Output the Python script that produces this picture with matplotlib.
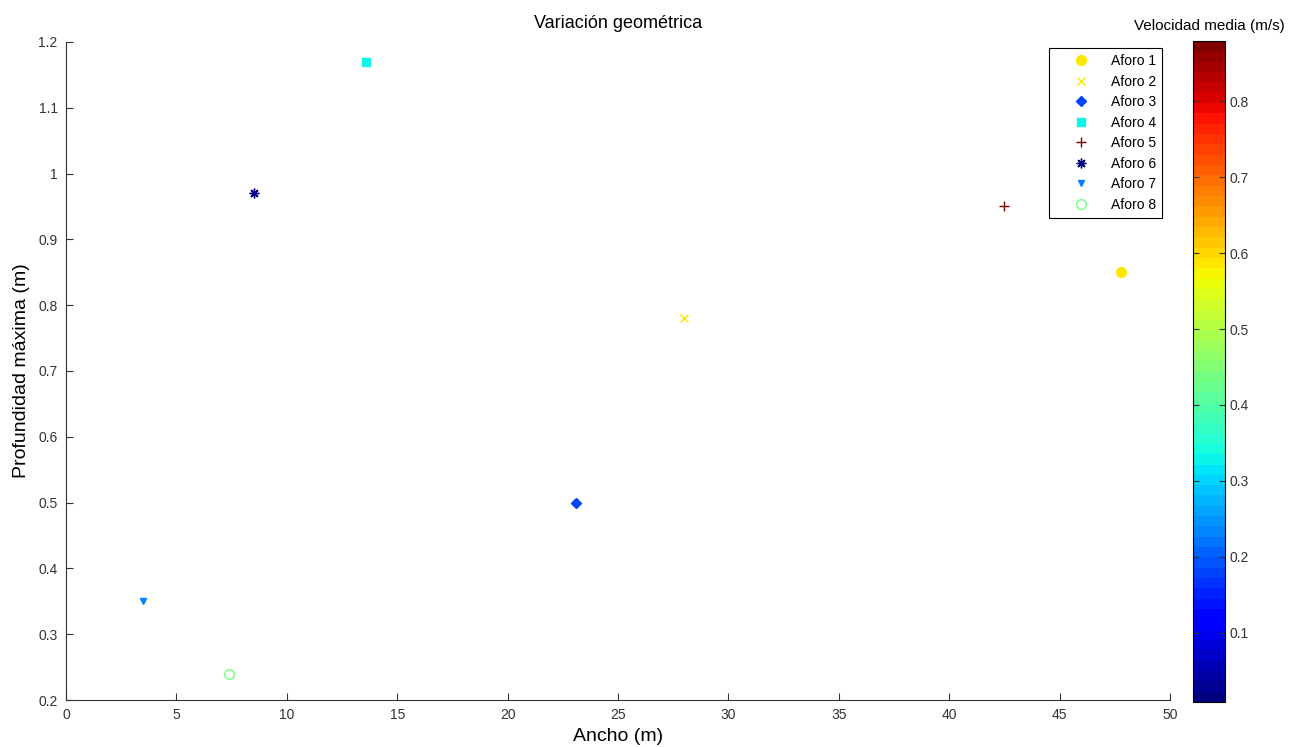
import numpy as np
import matplotlib
matplotlib.use("Agg")
import matplotlib.pyplot as plt
import matplotlib.colors as mcolors

plt.rcParams['font.family'] = ['Liberation Sans', 'DejaVu Sans']

# data
labels = ["Aforo 1", "Aforo 2", "Aforo 3", "Aforo 4", "Aforo 5", "Aforo 6", "Aforo 7", "Aforo 8"]
ancho = [47.8, 28.0, 23.1, 13.6, 42.5, 8.5, 3.5, 7.4]
profundidad = [0.85, 0.78, 0.50, 1.17, 0.95, 0.97, 0.35, 0.24]
velocidad = [0.58, 0.59, 0.175, 0.335, 0.879, 0.009, 0.235, 0.44]
markers = ["o", "x", "D", "s", "+", (8, 2, 0), "v", "o"]
filled = [True, True, True, True, True, True, True, False]
msizes = [7, 6, 5, 6, 7, 7, 5, 7]

cmap = plt.get_cmap("jet", 64)
norm = mcolors.Normalize(vmin=min(velocidad), vmax=max(velocidad))

fig = plt.figure(figsize=(13.12, 7.47), dpi=100)
ax = fig.add_axes([0.0503, 0.0629, 0.8415, 0.8809])

for i in range(len(labels)):
    c = cmap(norm(velocidad[i]))
    ax.plot(ancho[i], profundidad[i], linestyle="none", marker=markers[i],
            markersize=msizes[i], color=c,
            markerfacecolor=c if filled[i] else "none",
            markeredgewidth=1.0, label=labels[i])

ax.set_xlim(0, 50)
ax.set_ylim(0.2, 1.2)
ax.set_xticks(np.arange(0, 51, 5))
ax.set_yticks(np.arange(0.2, 1.21, 0.1))
ax.set_yticklabels(["0.2", "0.3", "0.4", "0.5", "0.6", "0.7", "0.8", "0.9", "1", "1.1", "1.2"])
ax.spines["top"].set_visible(False)
ax.spines["right"].set_visible(False)
for s in ["left", "bottom"]:
    ax.spines[s].set_color("#333333")
    ax.spines[s].set_linewidth(0.8)
ax.tick_params(direction="in", length=5, width=0.8, labelsize=10, colors="#333333", pad=6)

ax.set_xlabel("Ancho (m)", fontsize=14, labelpad=4)
ax.set_ylabel("Profundidad máxima (m)", fontsize=14, labelpad=6)
ax.set_title("Variación geométrica", fontsize=13, pad=10)

leg = ax.legend(loc="upper right", bbox_to_anchor=(0.993, 0.991), borderaxespad=0,
                fontsize=10, fancybox=False, framealpha=1, edgecolor="black",
                handletextpad=0.3, labelspacing=0.47, borderpad=0.45, handlelength=3.7)
leg.get_frame().set_linewidth(0.8)

cax = fig.add_axes([0.9093, 0.0602, 0.0244, 0.8848])
sm = plt.cm.ScalarMappable(norm=norm, cmap=cmap)
cb = fig.colorbar(sm, cax=cax, ticks=[0.1, 0.2, 0.3, 0.4, 0.5, 0.6, 0.7, 0.8])
cb.outline.set_linewidth(0.8)
cb.ax.tick_params(direction="in", length=4, width=0.8, labelsize=10, left=True, right=True, colors="#333333")
cax.set_title("Velocidad media (m/s)", fontsize=11, pad=8)

fig.savefig("out.png", dpi=100)
